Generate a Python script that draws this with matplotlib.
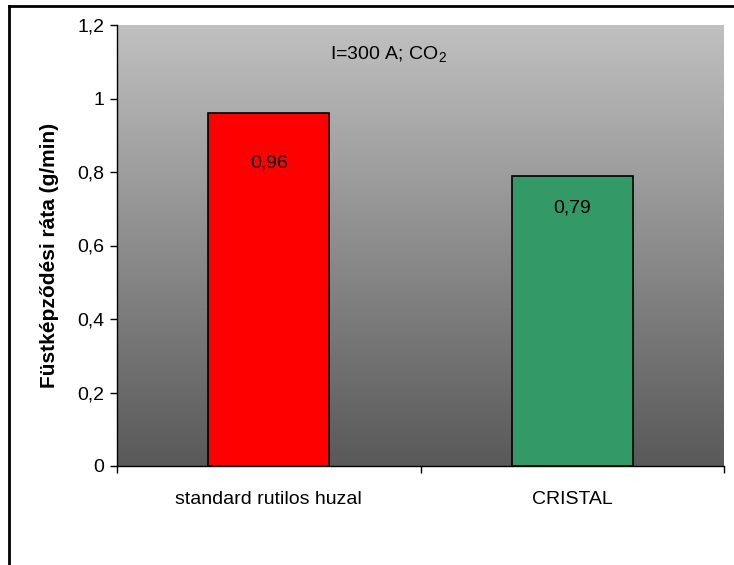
import matplotlib
matplotlib.use("Agg")
import matplotlib.pyplot as plt
import numpy as np
from matplotlib.colors import LinearSegmentedColormap
from matplotlib.lines import Line2D

categories = ["standard rutilos huzal", "CRISTAL"]
values = [0.96, 0.79]
value_labels = ["0,96", "0,79"]
bar_colors = ["#FF0000", "#339966"]
yticks = [0, 0.2, 0.4, 0.6, 0.8, 1.0, 1.2]
ytick_labels = ["0", "0,2", "0,4", "0,6", "0,8", "1", "1,2"]
ylabel = "Füstképződési ráta (g/min)"
annotation = "I=300 A; CO$_2$"

plt.rcParams["font.family"] = ["Liberation Sans", "DejaVu Sans"]
plt.rcParams["mathtext.fontset"] = "custom"
plt.rcParams["mathtext.rm"] = "Liberation Sans"
plt.rcParams["mathtext.it"] = "Liberation Sans"

FS = 14
fig = plt.figure(figsize=(7.34, 5.65), dpi=100)
W, H = 734, 565
ax = fig.add_axes([117 / W, 1 - 466 / H, (724 - 117) / W, (466 - 25) / H])

# gradient background
grad = np.linspace(0, 1, 256).reshape(-1, 1)
cmap = LinearSegmentedColormap.from_list("bg", ["#C0C0C0", "#595959"])
ax.imshow(grad, extent=[0, 1, 0, 1], transform=ax.transAxes, aspect="auto",
          cmap=cmap, zorder=0, origin="upper")

x = np.arange(len(categories))
ax.bar(x, values, width=0.4, color=bar_colors, edgecolor="black", linewidth=1.2, zorder=2)
label_offsets = [0.135, 0.088]
for xi, v, lab, off in zip(x, values, value_labels, label_offsets):
    ax.text(xi, v - off, lab, ha="center", va="center",
            fontsize=FS, color="black", zorder=3)

ax.set_xlim(-0.5, len(categories) - 0.5)
ax.set_ylim(0, 1.2)
ax.set_yticks(yticks)
ax.set_yticklabels(ytick_labels, fontsize=FS)
ax.set_xticks(x)
ax.set_xticklabels(categories, fontsize=FS)
ax.tick_params(axis="x", which="major", length=0, pad=18)
ax.set_xticks([-0.5, 0.5, 1.5], minor=True)
ax.tick_params(axis="x", which="minor", length=5, width=1, direction="out")
ax.tick_params(axis="y", length=5, width=1, direction="out", pad=4)
for s in ["top", "right"]:
    ax.spines[s].set_visible(False)
ax.spines["left"].set_linewidth(1)
ax.spines["bottom"].set_linewidth(1)
ax.set_ylabel(ylabel, fontsize=15, fontweight="bold")
ax.yaxis.set_label_coords((59 - 117) / 607, (466 - 255) / 441)

ax.text(0.393, 1.122, annotation, ha="center", va="center", fontsize=FS)

# figure frame (left and top visible)
fig.add_artist(Line2D([9 / W, 9 / W], [0, 1 - 6 / H], color="black", linewidth=2,
                      transform=fig.transFigure))
fig.add_artist(Line2D([9 / W, 1], [1 - 6 / H, 1 - 6 / H], color="black", linewidth=2,
                      transform=fig.transFigure))

fig.savefig("out.png", dpi=100)
